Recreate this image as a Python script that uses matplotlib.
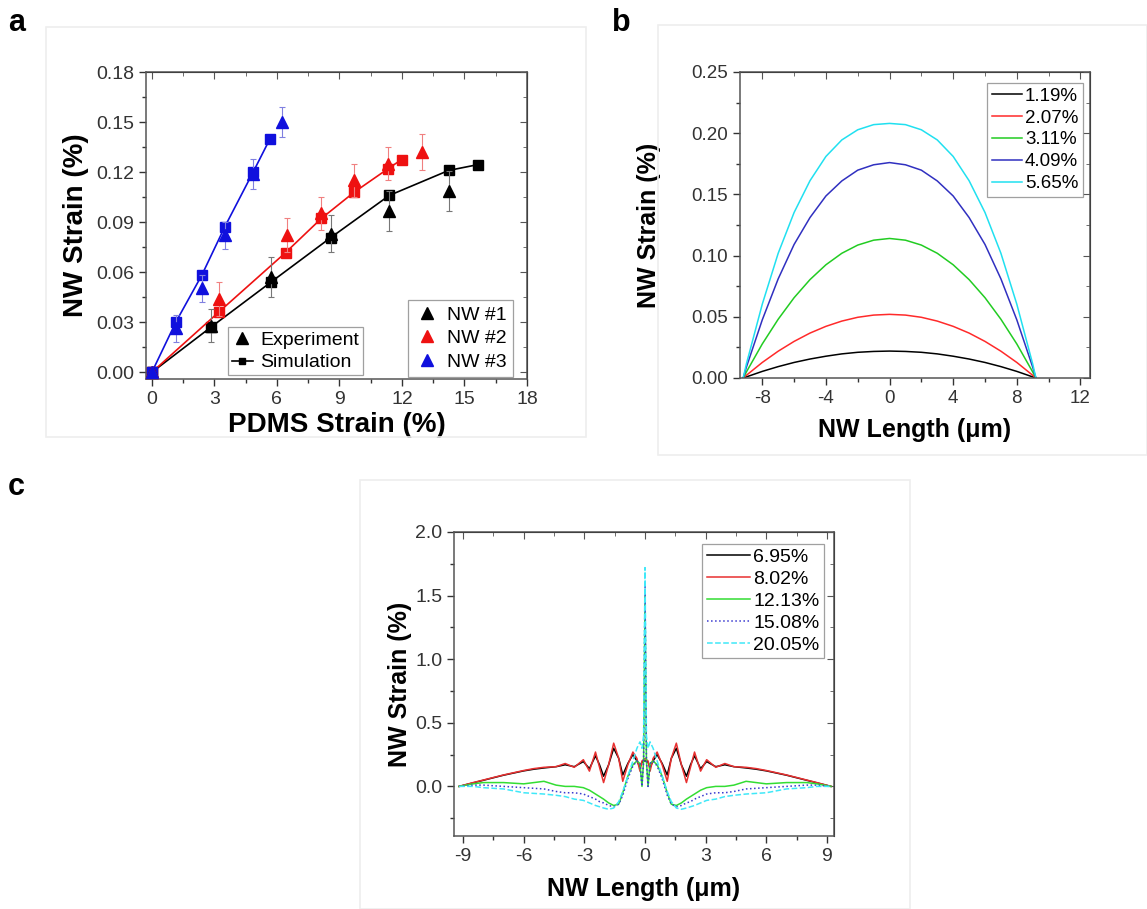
import matplotlib
matplotlib.use('Agg')
import matplotlib.pyplot as plt
from matplotlib.ticker import MultipleLocator, FormatStrFormatter
from matplotlib.patches import Rectangle
from matplotlib.lines import Line2D

plt.rcParams['font.family'] = ['Liberation Sans', 'DejaVu Sans']
plt.rcParams['axes.unicode_minus'] = False

# ---- panel a: NW strain vs PDMS strain ----
sim1_x = [0, 2.86, 5.74, 8.59, 11.39, 14.24, 15.65]
sim1_y = [0, 0.0273, 0.0543, 0.0808, 0.106, 0.121, 0.1245]
exp1_x = [0, 2.86, 5.74, 8.59, 11.39, 14.24]
exp1_y = [0, 0.028, 0.057, 0.083, 0.0966, 0.1086]
exp1_err = [0, 0.010, 0.012, 0.011, 0.012, 0.012]

sim2_x = [0, 3.23, 6.42, 8.13, 9.69, 11.34, 11.98]
sim2_y = [0, 0.0363, 0.0718, 0.0922, 0.1078, 0.1221, 0.1275]
exp2_x = [0, 3.23, 6.47, 8.13, 9.69, 11.34, 12.95]
exp2_y = [0, 0.0439, 0.0822, 0.0952, 0.1151, 0.125, 0.132]
exp2_err = [0, 0.010, 0.010, 0.010, 0.010, 0.010, 0.011]

sim3_x = [0, 1.16, 2.40, 3.50, 4.86, 5.67]
sim3_y = [0, 0.0303, 0.0583, 0.0872, 0.120, 0.140]
exp3_x = [0, 1.16, 2.40, 3.50, 4.86, 6.24]
exp3_y = [0, 0.0263, 0.0503, 0.0822, 0.119, 0.150]
exp3_err = [0, 0.008, 0.008, 0.008, 0.009, 0.009]

# ---- panel b: strain profile along NW ----
len_b = [-9.2, -9, -8, -7, -6, -5, -4, -3, -2, -1, 0,
         1, 2, 3, 4, 5, 6, 7, 8, 9, 9.2]
labels_b = ['1.19%', '2.07%', '3.11%', '4.09%', '5.65%']
strain_b = [
    [0, 0.0009, 0.0054, 0.0093, 0.0127, 0.0155, 0.0178, 0.0197, 0.0210, 0.0217, 0.0220,
     0.0217, 0.0210, 0.0197, 0.0178, 0.0155, 0.0127, 0.0093, 0.0054, 0.0009, 0],
    [0, 0.0022, 0.0127, 0.0219, 0.0299, 0.0367, 0.0422, 0.0465, 0.0496, 0.0514, 0.0520,
     0.0514, 0.0496, 0.0465, 0.0422, 0.0367, 0.0299, 0.0219, 0.0127, 0.0022, 0],
    [0, 0.0049, 0.0278, 0.0480, 0.0656, 0.0804, 0.0925, 0.1019, 0.1086, 0.1126, 0.1140,
     0.1126, 0.1086, 0.1019, 0.0925, 0.0804, 0.0656, 0.0480, 0.0278, 0.0049, 0],
    [0, 0.0088, 0.0475, 0.0810, 0.1091, 0.1311, 0.1487, 0.1610, 0.1698, 0.1742, 0.1760,
     0.1742, 0.1698, 0.1610, 0.1487, 0.1311, 0.1091, 0.0810, 0.0475, 0.0088, 0],
    [0, 0.0114, 0.0603, 0.1019, 0.1352, 0.1612, 0.1810, 0.1945, 0.2028, 0.2070, 0.2080,
     0.2070, 0.2028, 0.1945, 0.1810, 0.1612, 0.1352, 0.1019, 0.0603, 0.0114, 0],
]
colors_b = ['#000000', '#ff2a2a', '#22cc22', '#3030c0', '#20e0f0']

# ---- panel c: strain profile, larger PDMS strain ----
len_c = [-9.2, -8.5, -8.0, -7.0, -6.0, -5.5, -5.0, -4.4, -3.95, -3.5, -3.05, -2.75,
         -2.45, -2.25, -2.05, -1.8, -1.55, -1.3, -1.1, -0.85, -0.6, -0.4, -0.25, -0.15,
         -0.07, 0,
         0.07, 0.15, 0.25, 0.4, 0.6, 0.85, 1.1, 1.3, 1.55, 1.8, 2.05, 2.25,
         2.45, 2.75, 3.05, 3.5, 3.95, 4.4, 5.0, 5.5, 6.0, 7.0, 8.0, 8.5, 9.2]
labels_c = ['6.95%', '8.02%', '12.13%', '15.08%', '20.05%']
strain_c = [
    [0, 0.028, 0.048, 0.088, 0.122, 0.135, 0.145, 0.155, 0.17, 0.155, 0.195, 0.14,
     0.24, 0.17, 0.08, 0.17, 0.30, 0.22, 0.09, 0.18, 0.25, 0.20, 0.15, 0.19,
     0.20, 0.20,
     0.20, 0.19, 0.15, 0.20, 0.25, 0.18, 0.09, 0.22, 0.30, 0.17, 0.08, 0.17,
     0.24, 0.14, 0.195, 0.155, 0.17, 0.155, 0.145, 0.135, 0.122, 0.088, 0.048, 0.028, 0],
    [0, 0.03, 0.05, 0.09, 0.125, 0.14, 0.15, 0.155, 0.18, 0.15, 0.21, 0.12,
     0.27, 0.15, 0.03, 0.17, 0.34, 0.22, 0.04, 0.17, 0.27, 0.22, 0.12, 0.20,
     0.21, 0.22,
     0.21, 0.20, 0.12, 0.22, 0.27, 0.17, 0.04, 0.22, 0.34, 0.17, 0.03, 0.15,
     0.27, 0.12, 0.21, 0.15, 0.18, 0.155, 0.15, 0.14, 0.125, 0.09, 0.05, 0.03, 0],
    [0, 0.02, 0.03, 0.03, 0.02, 0.03, 0.04, 0.01, 0.0, 0.0, -0.01, -0.03,
     -0.06, -0.08, -0.10, -0.13, -0.15, -0.14, -0.05, 0.08, 0.17, 0.20, 0.18, 0.0,
     0.20, 1.50,
     0.20, 0.0, 0.18, 0.20, 0.17, 0.08, -0.05, -0.14, -0.15, -0.13, -0.10, -0.08,
     -0.06, -0.03, -0.01, 0.0, 0.0, 0.01, 0.04, 0.03, 0.02, 0.03, 0.03, 0.02, 0],
    [0, 0.01, 0.01, 0.0, -0.01, -0.015, -0.02, -0.04, -0.05, -0.05, -0.06, -0.08,
     -0.10, -0.12, -0.13, -0.15, -0.16, -0.14, -0.07, 0.06, 0.16, 0.20, 0.18, 0.0,
     0.20, 1.60,
     0.20, 0.0, 0.18, 0.20, 0.16, 0.06, -0.07, -0.14, -0.16, -0.15, -0.13, -0.12,
     -0.10, -0.08, -0.06, -0.05, -0.05, -0.04, -0.02, -0.015, -0.01, 0.0, 0.01, 0.01, 0],
    [0, 0.0, -0.01, -0.02, -0.05, -0.055, -0.06, -0.07, -0.08, -0.10, -0.11, -0.13,
     -0.15, -0.16, -0.17, -0.18, -0.17, -0.12, -0.04, 0.08, 0.20, 0.30, 0.35, 0.30,
     0.40, 1.72,
     0.40, 0.30, 0.35, 0.30, 0.20, 0.08, -0.04, -0.12, -0.17, -0.18, -0.17, -0.16,
     -0.15, -0.13, -0.11, -0.10, -0.08, -0.07, -0.06, -0.055, -0.05, -0.02, -0.01, 0.0, 0],
]
colors_c = ['#000000', '#e83030', '#33dd33', '#3a3ad0', '#40e8f8']
styles_c = ['-', '-', '-', ':', '--']


def style_axes(ax, xmaj, xmin, ymaj, ymin, yfmt, fs):
    ax.xaxis.set_major_locator(MultipleLocator(xmaj))
    ax.xaxis.set_minor_locator(MultipleLocator(xmin))
    ax.yaxis.set_major_locator(MultipleLocator(ymaj))
    ax.yaxis.set_minor_locator(MultipleLocator(ymin))
    ax.yaxis.set_major_formatter(FormatStrFormatter(yfmt))
    ax.tick_params(which='both', direction='out', labelsize=fs, colors='#333333', width=1)
    ax.tick_params(which='major', length=5)
    ax.tick_params(which='minor', length=3)
    for s in ax.spines.values():
        s.set_color('#555555')
        s.set_linewidth(1.1)
    # mirrored ticks pointing inward on top and right
    top = ax.secondary_xaxis('top')
    top.xaxis.set_major_locator(MultipleLocator(xmaj))
    top.xaxis.set_minor_locator(MultipleLocator(xmin))
    top.tick_params(which='both', direction='in', labeltop=False, colors='#555555')
    top.tick_params(which='major', length=5)
    top.tick_params(which='minor', length=3)
    right = ax.secondary_yaxis('right')
    right.yaxis.set_major_locator(MultipleLocator(ymaj))
    right.yaxis.set_minor_locator(MultipleLocator(ymin))
    right.tick_params(which='both', direction='in', labelright=False, colors='#555555')
    right.tick_params(which='major', length=5)
    right.tick_params(which='minor', length=3)


fig = plt.figure(figsize=(11.47, 9.09), dpi=100)

# faint panel frames
for (x0, y0, w, h) in [(46, 27, 540, 410), (658, 25, 489, 430), (360, 480, 550, 429)]:
    fig.add_artist(Rectangle((x0 / 1147, 1 - (y0 + h) / 909), w / 1147, h / 909,
                             transform=fig.transFigure, fill=False,
                             edgecolor='#eeeeee', lw=1.2))

# ---------- a ----------
ax1 = fig.add_axes([146 / 1147, 1 - 379 / 909, 381 / 1147, 307 / 909])
groups = [(sim1_x, sim1_y, exp1_x, exp1_y, exp1_err, '#000000', '#777777'),
          (sim2_x, sim2_y, exp2_x, exp2_y, exp2_err, '#ee1111', '#f08080'),
          (sim3_x, sim3_y, exp3_x, exp3_y, exp3_err, '#1010dd', '#8080e0')]
for sx, sy, ex, ey, ee, c, ce in groups:
    ax1.plot(sx, sy, '-', color=c, lw=1.2, marker='s', ms=6.5, zorder=3)
    ax1.errorbar(ex, ey, yerr=ee, fmt='^', color=c, ms=8, ecolor=ce,
                 elinewidth=0.8, capsize=2.5, capthick=0.8, zorder=4)
ax1.set_xlim(-0.28, 18)
ax1.set_ylim(-0.004, 0.18)
style_axes(ax1, 3, 1.5, 0.03, 0.015, '%.2f', 14)
ax1.set_xlabel('PDMS Strain (%)', labelpad=3, fontsize=20, fontweight='bold')
ax1.set_ylabel('NW Strain (%)', labelpad=5, fontsize=20, fontweight='bold')

h_exp = Line2D([], [], ls='none', marker='^', color='k', ms=8)
h_sim = Line2D([], [], ls='-', marker='s', color='k', ms=5, lw=1.2)
leg1 = ax1.legend([h_exp, h_sim], ['Experiment', 'Simulation'], loc='lower left',
                  bbox_to_anchor=(0.215, 0.012), fontsize=14, frameon=True,
                  fancybox=False, edgecolor='#888888', handlelength=1.1,
                  handletextpad=0.35, borderpad=0.2, labelspacing=0.25,
                  borderaxespad=0)
leg1.get_frame().set_linewidth(0.9)
ax1.add_artist(leg1)
h_nw = [Line2D([], [], ls='none', marker='^', color=c, ms=8)
        for c in ['#000000', '#ee1111', '#1010dd']]
leg2 = ax1.legend(h_nw, ['NW #1', 'NW #2', 'NW #3'], loc='lower right',
                  bbox_to_anchor=(0.962, 0.008), fontsize=14, frameon=True,
                  fancybox=False, edgecolor='#888888', handlelength=1.3,
                  handletextpad=0.4, borderpad=0.3, labelspacing=0.3,
                  borderaxespad=0)
leg2.get_frame().set_linewidth(0.9)

# ---------- b ----------
ax2 = fig.add_axes([740 / 1147, 1 - 378 / 909, 350 / 1147, 306 / 909])
for ys, lab, c in zip(strain_b, labels_b, colors_b):
    ax2.plot(len_b, ys, color=c, lw=1.1, label=lab)
ax2.set_xlim(-9.4, 12.6)
ax2.set_ylim(0, 0.25)
style_axes(ax2, 4, 2, 0.05, 0.025, '%.2f', 13.5)
ax2.set_xlabel('NW Length (\u03bcm)', labelpad=8, fontsize=18, fontweight='bold')
ax2.set_ylabel('NW Strain (%)', labelpad=22, fontsize=18, fontweight='bold')
leg_b = ax2.legend(loc='upper right', bbox_to_anchor=(0.98, 0.964), fontsize=13.5,
                   fancybox=False, edgecolor='#888888', handlelength=1.6,
                   handletextpad=0.15, borderpad=0.25, labelspacing=0.25,
                   borderaxespad=0)
leg_b.get_frame().set_linewidth(0.9)

# ---------- c ----------
ax3 = fig.add_axes([454 / 1147, 1 - 836 / 909, 380 / 1147, 304 / 909])
for ys, lab, c, ls in zip(strain_c, labels_c, colors_c, styles_c):
    ax3.plot(len_c, ys, color=c, ls=ls, lw=1.1, label=lab)
ax3.set_xlim(-9.45, 9.35)
ax3.set_ylim(-0.39, 2.0)
style_axes(ax3, 3, 1.5, 0.5, 0.25, '%.1f', 14)
ax3.set_xlabel('NW Length (\u03bcm)', labelpad=9, fontsize=18, fontweight='bold')
ax3.set_ylabel('NW Strain (%)', labelpad=2, fontsize=18, fontweight='bold')
leg_c = ax3.legend(loc='upper right', bbox_to_anchor=(0.974, 0.962), fontsize=14,
                   fancybox=False, edgecolor='#888888', handlelength=2.2,
                   handletextpad=0.15, borderpad=0.25, labelspacing=0.22,
                   borderaxespad=0)
leg_c.get_frame().set_linewidth(0.9)

# panel letters
fig.text(8 / 1147, 1 - 8 / 909, 'a', fontsize=22, fontweight='bold', va='top')
fig.text(612 / 1147, 1 - 8 / 909, 'b', fontsize=22, fontweight='bold', va='top')
fig.text(8 / 1147, 1 - 472 / 909, 'c', fontsize=22, fontweight='bold', va='top')

fig.savefig('out.png', dpi=100, facecolor='white')
